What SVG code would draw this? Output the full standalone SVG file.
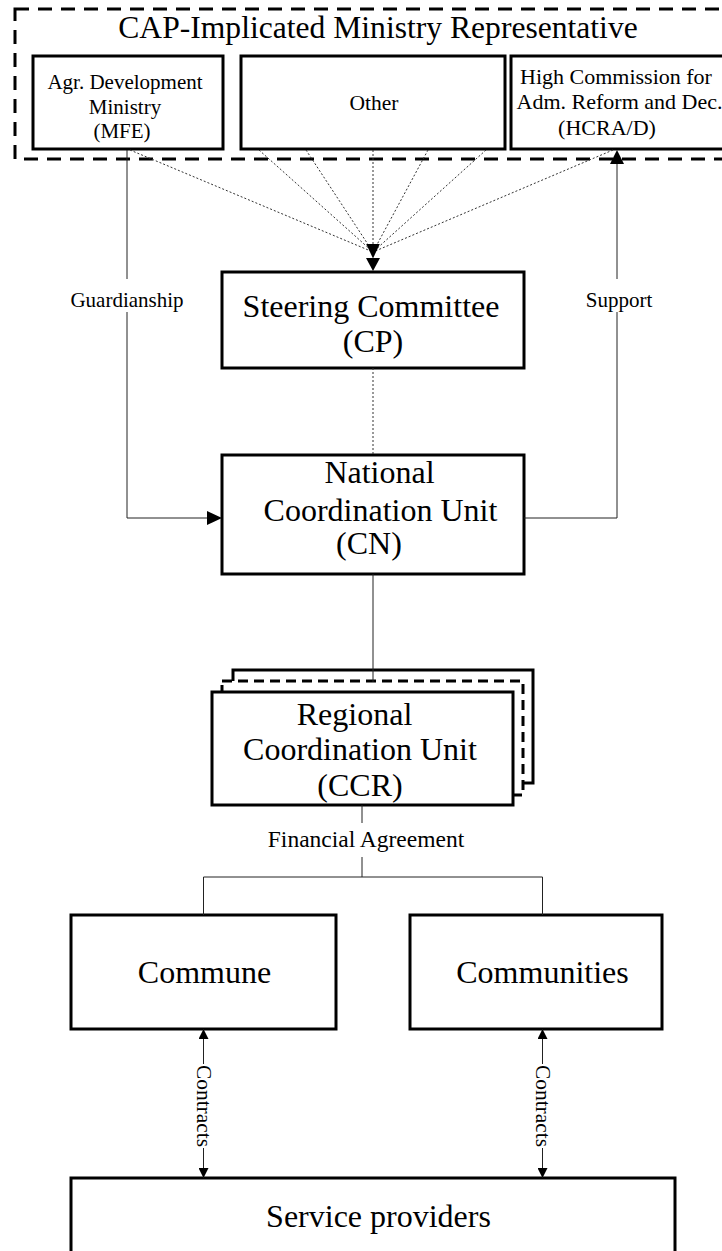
<svg xmlns="http://www.w3.org/2000/svg" width="722" height="1251" viewBox="0 0 722 1251">
<defs>
<style>
.box{fill:#fff;stroke:#000;stroke-width:3}
.dbox{fill:#fff;stroke:#000;stroke-width:3;stroke-dasharray:10,6}
.outer{fill:none;stroke:#000;stroke-width:3;stroke-dasharray:14,9}
.t{font-family:"Liberation Serif","Times New Roman",serif;fill:#000;text-anchor:middle}
.big{font-size:32px}
.sm{font-size:21.5px}
.ln{fill:none;stroke:#222;stroke-width:1}
.dot{fill:none;stroke:#333;stroke-width:1;stroke-dasharray:2,2}
</style>
<marker id="ah" markerWidth="15" markerHeight="14" refX="15" refY="7" orient="auto" markerUnits="userSpaceOnUse">
<path d="M0,0 L15,7 L0,14 Z" fill="#000"/>
</marker>
<marker id="as" markerWidth="10" markerHeight="10" refX="10" refY="5" orient="auto-start-reverse" markerUnits="userSpaceOnUse">
<path d="M0,0 L10,5 L0,10 Z" fill="#000"/>
</marker>
</defs>
<rect width="722" height="1251" fill="#fff"/>

<g id="cap-group">
<rect class="outer" x="15" y="9" width="730" height="150"/>
<text class="t" x="378" y="38" font-size="31.6px">CAP-Implicated Ministry Representative</text>
</g>

<g id="mfe">
<rect class="box" x="33" y="56" width="190" height="93"/>
<text class="t" x="125" y="89" font-size="21px">Agr. Development</text>
<text class="t" x="125" y="114" font-size="21px">Ministry</text>
<text class="t" x="122" y="138" font-size="21px">(MFE)</text>
</g>

<g id="other">
<rect class="box" x="241" y="56" width="264" height="93"/>
<text class="t sm" x="374" y="110">Other</text>
</g>

<g id="hcrad">
<rect class="box" x="511" y="56" width="230" height="93"/>
<text class="t" x="616" y="84" font-size="22px">High Commission for</text>
<text class="t" x="619.5" y="109" font-size="22px">Adm. Reform and Dec.</text>
<text class="t" x="607" y="135" font-size="22px">(HCRA/D)</text>
</g>

<g id="cp">
<rect class="box" x="222" y="272" width="302" height="96"/>
<text class="t big" x="371" y="317">Steering Committee</text>
<text class="t big" x="373" y="352">(CP)</text>
</g>

<g id="cn">
<rect class="box" x="222" y="455" width="302" height="119"/>
<text class="t big" x="379.5" y="483">National</text>
<text class="t big" x="380.5" y="521">Coordination Unit</text>
<text class="t big" x="369" y="554">(CN)</text>
</g>

<g id="ccr">
<rect class="box" x="233" y="670" width="300" height="113"/>
<rect class="dbox" x="222" y="681" width="301" height="114"/>
<rect class="box" x="212" y="692" width="301" height="113"/>
<text class="t big" x="354.5" y="725">Regional</text>
<text class="t big" x="360" y="760">Coordination Unit</text>
<text class="t big" x="360" y="796">(CCR)</text>
</g>

<g id="commune">
<rect class="box" x="71" y="915" width="265" height="114"/>
<text class="t big" x="204.5" y="983">Commune</text>
</g>

<g id="communities">
<rect class="box" x="410" y="915" width="252" height="114"/>
<text class="t big" x="542.5" y="983">Communities</text>
</g>

<g id="providers">
<rect class="box" x="71" y="1178" width="604" height="100"/>
<text class="t big" x="378.5" y="1227">Service providers</text>
</g>

<g id="connectors">
<!-- dotted fan into steering committee -->
<path class="dot" d="M130,150 L373,252 M259,150 L373,252 M306,150 L373,252 M373,150 L373,258 M428,150 L373,252 M486,150 L373,252 M613,150 L373,252"/>
<path class="dot" d="M373,258 L373,258.5" marker-end="url(#ah)"/>
<path d="M366,258 L380,258 L373,271 Z" fill="#000"/>
<!-- CP to CN dotted -->
<path class="dot" d="M373,368 L373,455"/>
<!-- guardianship -->
<path class="ln" d="M127,150 L127,279 M127,312 L127,518 L207,518"/>
<path d="M207,511 L222,518 L207,525 Z" fill="#000"/>
<text class="t" x="127" y="307" font-size="21px">Guardianship</text>
<!-- support -->
<path class="ln" d="M524,518 L617,518 L617,312 M617,279 L617,164"/>
<path d="M610,164 L617,150 L624,164 Z" fill="#000"/>
<text class="t" x="619" y="307" font-size="21px">Support</text>
<!-- CN to CCR -->
<path class="ln" d="M373,574 L373,682" stroke="#555"/>
<!-- CCR to financial split -->
<path class="ln" d="M362,805 L362,823 M362,857 L362,877 M203.5,915 L203.5,877 L542.5,877 L542.5,915"/>
<text class="t" x="366" y="847" font-size="23.5px">Financial Agreement</text>
<!-- contracts -->
<path class="ln" d="M203.5,1029 L203.5,1064" marker-start="url(#as)"/>
<path class="ln" d="M203.5,1148 L203.5,1178" marker-end="url(#as)"/>
<path class="ln" d="M542.5,1029 L542.5,1064" marker-start="url(#as)"/>
<path class="ln" d="M542.5,1148 L542.5,1178" marker-end="url(#as)"/>
<text class="t" font-size="21.4px" transform="translate(197,1106) rotate(90)">Contracts</text>
<text class="t" font-size="21.4px" transform="translate(536,1106) rotate(90)">Contracts</text>
</g>
</svg>
